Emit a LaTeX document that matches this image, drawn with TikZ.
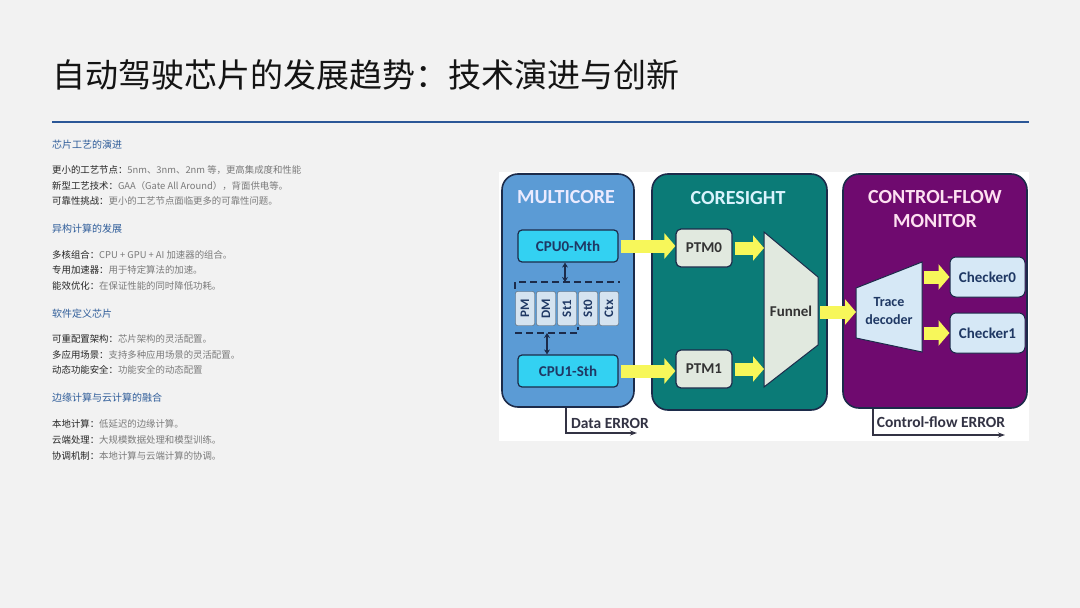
\documentclass[tikz,border=0pt]{standalone}
\usepackage{fontspec}
\setmainfont{Carlito}
\newfontfamily\cjk{Noto Sans CJK SC}
\newfontfamily\diag{Carlito}
\usetikzlibrary{arrows.meta,positioning}

\definecolor{pagebg}{HTML}{F2F2F2}
\definecolor{rulecol}{HTML}{2B5797}
\definecolor{headcol}{HTML}{2E5C99}
\definecolor{keycol}{HTML}{262626}
\definecolor{bodycol}{HTML}{7A7A7A}
\definecolor{multicol}{HTML}{5B9BD5}
\definecolor{cpucol}{HTML}{33D1F2}
\definecolor{memcol}{HTML}{D5E3F0}
\definecolor{coscol}{HTML}{0B7B77}
\definecolor{ptmcol}{HTML}{E1E9DF}
\definecolor{cfmcol}{HTML}{6F0A6F}
\definecolor{deccol}{HTML}{D6E8F6}
\definecolor{arrcol}{HTML}{F7F75A}
\definecolor{edgecol}{HTML}{1C2B4A}
\definecolor{navy}{HTML}{1F3864}
\definecolor{errcol}{HTML}{333344}

\newcommand{\pointline}[2]{{\color{keycol}#1}{\color{bodycol}#2}}

\begin{document}
\begin{tikzpicture}[x=1pt,y=-1pt,
    panel/.style={draw=edgecol, line width=1.6pt, rounded corners=16pt},
    paneltitle/.style={font=\diag\bfseries\fontsize{20}{21}\selectfont, align=center},
    cpubox/.style={draw=edgecol, fill=cpucol, line width=1.2pt, rounded corners=4pt,
      minimum width=100pt, minimum height=32pt, text=navy,
      font=\diag\bfseries\fontsize{15}{15}\selectfont},
    memcell/.style={draw=gray!70!black, fill=memcol, rounded corners=2pt, rotate=90,
      minimum width=34pt, minimum height=19pt, inner sep=0pt, text=navy,
      font=\diag\bfseries\fontsize{13}{13}\selectfont},
    ptmbox/.style={draw=edgecol, fill=ptmcol, line width=1.2pt, rounded corners=5pt,
      minimum width=56pt, minimum height=38pt, text=black!80,
      font=\diag\bfseries\fontsize{15}{15}\selectfont},
    checkbox/.style={draw=edgecol, fill=deccol, line width=1pt, rounded corners=6pt,
      minimum width=75pt, minimum height=40pt, text=navy,
      font=\diag\bfseries\fontsize{15}{15}\selectfont},
    shapefill/.style={draw=edgecol, line width=1pt},
    fatarrow/.style={draw=arrcol, line width=13pt, -{Triangle[length=11pt,width=25pt]},
      shorten <=2pt},
    link/.style={draw=edgecol, line width=1.5pt, {Stealth[length=5pt,width=6pt]}-{Stealth[length=5pt,width=6pt]}},
    memgroup/.style={draw=edgecol, line width=1.6pt, dash pattern=on 7pt off 4pt},
    errline/.style={draw=errcol, line width=1.2pt, -{Stealth[length=7pt,width=5pt]}},
    errlabel/.style={text=errcol, font=\diag\bfseries\fontsize{15.5}{16}\selectfont},
    heading/.style={anchor=west, inner sep=0pt, text=headcol, font=\cjk\fontsize{10}{10}\selectfont},
    bodyline/.style={anchor=west, inner sep=0pt, font=\cjk\fontsize{9.4}{10}\selectfont}]

  \fill[pagebg] (0,0) rectangle (1080,608);
  \useasboundingbox (0,0) rectangle (1080,608);

  % title and rule
  \node[anchor=west, inner sep=0pt, font=\cjk\fontsize{33}{34}\selectfont, text=black!92] (title) at (52,75) {自动驾驶芯片的发展趋势：技术演进与创新};
  \draw[rulecol, line width=2.5pt] (52,122) -- (1029,122);

  % left column
  \node[heading] (head1) at (52,145) {芯片工艺的演进};
  \node[bodyline] (line11) at (52,170) {\pointline{更小的工艺节点：}{5nm、3nm、2nm 等，更高集成度和性能}};
  \node[bodyline] (line12) at (52,186) {\pointline{新型工艺技术：}{GAA（Gate All Around），背面供电等。}};
  \node[bodyline] (line13) at (52,201) {\pointline{可靠性挑战：}{更小的工艺节点面临更多的可靠性问题。}};

  \node[heading] (head2) at (52,229) {异构计算的发展};
  \node[bodyline] (line21) at (52,255) {\pointline{多核组合：}{CPU + GPU + AI 加速器的组合。}};
  \node[bodyline] (line22) at (52,270) {\pointline{专用加速器：}{用于特定算法的加速。}};
  \node[bodyline] (line23) at (52,286) {\pointline{能效优化：}{在保证性能的同时降低功耗。}};

  \node[heading] (head3) at (52,314) {软件定义芯片};
  \node[bodyline] (line31) at (52,339) {\pointline{可重配置架构：}{芯片架构的灵活配置。}};
  \node[bodyline] (line32) at (52,355) {\pointline{多应用场景：}{支持多种应用场景的灵活配置。}};
  \node[bodyline] (line33) at (52,370) {\pointline{动态功能安全：}{功能安全的动态配置}};

  \node[heading] (head4) at (52,398) {边缘计算与云计算的融合};
  \node[bodyline] (line41) at (52,424) {\pointline{本地计算：}{低延迟的边缘计算。}};
  \node[bodyline] (line42) at (52,440) {\pointline{云端处理：}{大规模数据处理和模型训练。}};
  \node[bodyline] (line43) at (52,456) {\pointline{协调机制：}{本地计算与云端计算的协调。}};

  % diagram
  \fill[white] (499,172) rectangle (1029,441);

  \node[panel, fill=multicol, minimum width=132pt, minimum height=233pt] (multi) at (568,290.5) {};
  \node[panel, fill=coscol, minimum width=175pt, minimum height=236pt] (cores) at (739.5,292) {};
  \node[panel, fill=cfmcol, minimum width=184pt, minimum height=234pt] (cfm) at (935,291) {};

  \node[paneltitle, text=blue!8] (multititle) at (566,197) {MULTICORE};
  \node[paneltitle, text=cyan!15] (corestitle) at (738,198) {CORESIGHT};
  \node[paneltitle, text=magenta!12, font=\diag\bfseries\fontsize{20}{24}\selectfont] (cfmtitle) at (935,209) {CONTROL-FLOW\\MONITOR};

  % multicore
  \node[cpubox] (cpu0) at (568,246) {CPU0-Mth};
  \node[cpubox] (cpu1) at (568,371) {CPU1-Sth};
  \foreach \name/\lbl [count=\i] in {pm/PM,dm/DM,st1/St1,st0/St0,ctx/Ctx}
    \node[memcell] (\name) at ({504+\i*21},308.5) {\lbl};
  \draw[memgroup] (515,289) -- (515,282) -- (620,282);
  \draw[memgroup] (515,333) -- (578,333) -- (578,327);
  \coordinate (grouptop) at (565,282);
  \coordinate (groupbot) at (547,333);
  \draw[link] (grouptop |- cpu0.south) -- (grouptop);
  \draw[link] (groupbot) -- (groupbot |- cpu1.north);

  % coresight
  \node[ptmbox] (ptm0) at (704,248) {PTM0};
  \node[ptmbox] (ptm1) at (704,369) {PTM1};
  \coordinate (fnw) at (764,232);
  \coordinate (fne) at (818,277);
  \coordinate (fse) at (818,345);
  \coordinate (fsw) at (764,387);
  \draw[shapefill, fill=ptmcol] (fnw) -- (fne) -- (fse) -- (fsw) -- cycle;
  \node[text=black!80, font=\diag\bfseries\fontsize{15}{15}\selectfont] (funnel) at (791,311) {Funnel};
  \coordinate (fout) at (818,312);

  % control-flow monitor
  \coordinate (dnw) at (856,288);
  \coordinate (dne) at (922,262);
  \coordinate (dse) at (922,352);
  \coordinate (dsw) at (856,338);
  \draw[shapefill, fill=deccol] (dnw) -- (dne) -- (dse) -- (dsw) -- cycle;
  \node[text=navy, align=center, font=\diag\bfseries\fontsize{14}{18}\selectfont] (tdec) at (889,311) {Trace\\decoder};
  \node[checkbox] (chk0) at (987.5,277) {Checker0};
  \node[checkbox] (chk1) at (987.5,333) {Checker1};

  % yellow data paths
  \draw[fatarrow] (cpu0.east) -- (cpu0.east -| ptm0.west);
  \draw[fatarrow] (cpu1.east) -- (cpu1.east -| ptm1.west);
  \draw[fatarrow] (ptm0.east) -- (ptm0.east -| fnw);
  \draw[fatarrow] (ptm1.east) -- (ptm1.east -| fnw);
  \draw[fatarrow] (fout) -- (fout -| dnw);
  \draw[fatarrow] (chk0.west -| dne) -- (chk0.west);
  \draw[fatarrow] (chk1.west -| dne) -- (chk1.west);

  % error outputs
  \coordinate (derr) at (637,433);
  \coordinate (cferr) at (1005,435);
  \draw[errline] (multi.south -| 566,0) |- (derr);
  \draw[errline] (cfm.south -| 873,0) |- (cferr);
  \node[errlabel] (derrlabel) at (610,423) {Data ERROR};
  \node[errlabel] (cferrlabel) at (941,422) {Control-flow ERROR};
\end{tikzpicture}
\end{document}
